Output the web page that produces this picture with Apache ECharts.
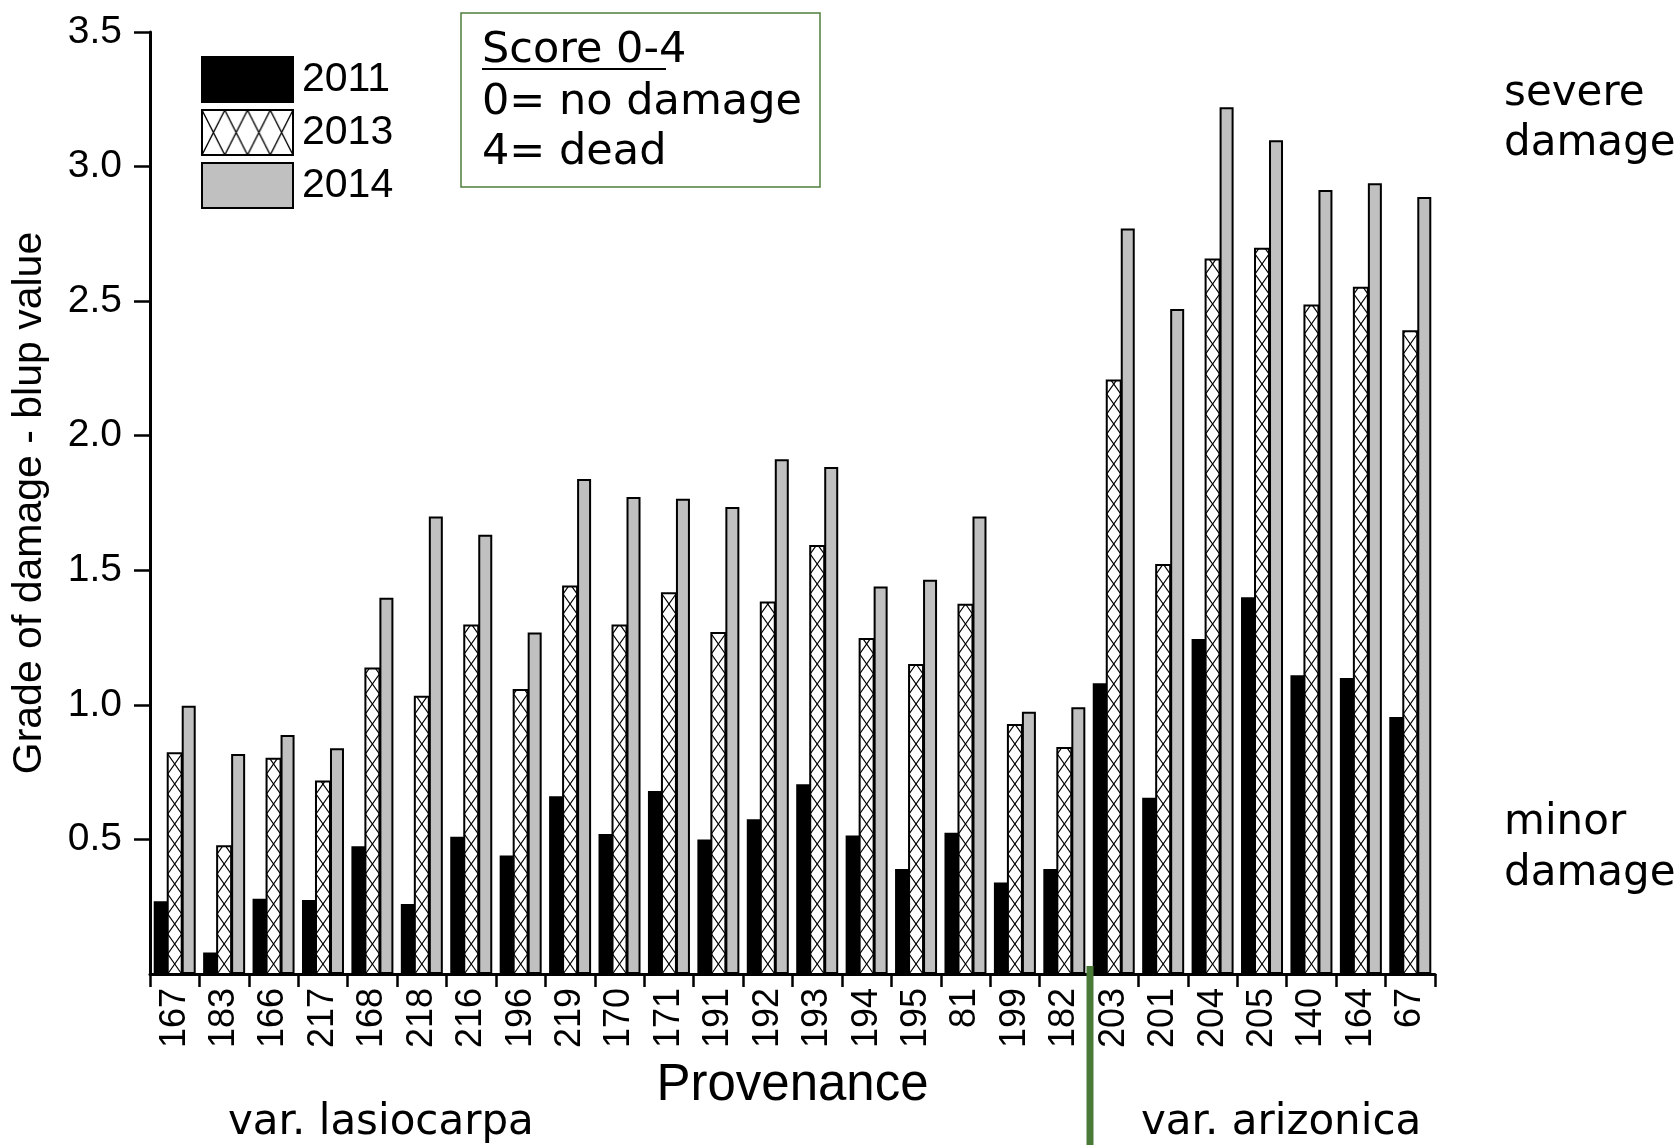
<!DOCTYPE html>
<html>
<head>
<meta charset="utf-8">
<script src="https://cdn.jsdelivr.net/npm/echarts@6/dist/echarts.min.js"></script>
<style>
  html, body { margin: 0; padding: 0; background: #fff; }
  #chart { width: 1679px; height: 1145px; }
</style>
</head>
<body>
<div id="chart"></div>
<script>
// Provenances along the x axis
const provenances = ['167','183','166','217','168','218','216','196','219','170','171','191','192','193','194','195','81','199','182','203','201','204','205','140','164','67'];

// Grade of damage (blup value) per year
const damage2011 = [0.27, 0.08, 0.28, 0.275, 0.475, 0.26, 0.51, 0.44, 0.66, 0.52, 0.68, 0.50, 0.575, 0.705, 0.515, 0.39, 0.525, 0.34, 0.39, 1.08, 0.655, 1.245, 1.40, 1.11, 1.10, 0.955];
const damage2013 = [0.82, 0.475, 0.80, 0.715, 1.135, 1.03, 1.295, 1.055, 1.44, 1.295, 1.415, 1.267, 1.38, 1.59, 1.245, 1.148, 1.372, 0.925, 0.84, 2.205, 1.52, 2.655, 2.695, 2.484, 2.55, 2.388];
const damage2014 = [0.997, 0.817, 0.888, 0.839, 1.398, 1.70, 1.632, 1.269, 1.839, 1.772, 1.766, 1.735, 1.913, 1.884, 1.44, 1.465, 1.70, 0.974, 0.991, 2.77, 2.471, 3.22, 3.098, 2.913, 2.938, 2.887];

// Y-axis tick labels
const yTicks = [0.5, 1.0, 1.5, 2.0, 2.5, 3.0, 3.5];

const seriesNames = ['2011', '2013', '2014'];

const BAR_W = 14;
const HATCH_STEP = 20;
const AXIS_FONT = '"Liberation Sans", Arial, sans-serif';
const NOTE_FONT = '"DejaVu Sans", Verdana, sans-serif';
const NOTE_SIZE = 42;

// cross-hatch tile for the legend swatch
function makeHatchTile(w, h) {
  const c = document.createElement('canvas');
  c.width = w; c.height = h;
  const ctx = c.getContext('2d');
  ctx.fillStyle = '#fff';
  ctx.fillRect(0, 0, w, h);
  ctx.strokeStyle = '#000';
  ctx.lineWidth = 1.3;
  ctx.beginPath();
  ctx.moveTo(0, 0); ctx.lineTo(w, h);
  ctx.moveTo(w, 0); ctx.lineTo(0, h);
  ctx.stroke();
  return c;
}
const legendHatch = { image: makeHatchTile(23, 45), repeat: 'repeat', scaleX: 22.75 / 23 };

// zigzag running from the bar base up to its top, clipped at the top edge
function zigzag(xl, xr, yBase, yTop, startLeft) {
  const pts = [];
  let y = yBase;
  let left = startLeft;
  pts.push([left ? xl : xr, y]);
  while (y - HATCH_STEP > yTop) {
    y -= HATCH_STEP;
    left = !left;
    pts.push([left ? xl : xr, y]);
  }
  const frac = (y - yTop) / HATCH_STEP;
  const xFrom = left ? xl : xr;
  const xTo = left ? xr : xl;
  pts.push([xFrom + (xTo - xFrom) * frac, yTop]);
  return pts;
}

function renderHatched(params, api) {
  const idx = api.value(0);
  const v = api.value(1);
  const top = api.coord([idx, v]);
  const base = api.coord([idx, 0]);
  const xl = top[0] - BAR_W / 2;
  const xr = top[0] + BAR_W / 2;
  const yTop = top[1];
  const yBase = base[1];
  return {
    type: 'group',
    children: [
      { type: 'rect', shape: { x: xl, y: yTop, width: BAR_W, height: yBase - yTop },
        style: { fill: '#fff', stroke: null } },
      { type: 'polyline', shape: { points: zigzag(xl, xr, yBase, yTop, true) },
        style: { stroke: '#000', lineWidth: 1.2, fill: null } },
      { type: 'polyline', shape: { points: zigzag(xl, xr, yBase, yTop, false) },
        style: { stroke: '#000', lineWidth: 1.2, fill: null } },
      { type: 'rect', shape: { x: xl, y: yTop, width: BAR_W, height: yBase - yTop },
        style: { fill: null, stroke: '#000', lineWidth: 2 } }
    ]
  };
}

function note(text, x, y, size) {
  return { type: 'text', x: x, y: y,
    style: { text: text, fontFamily: NOTE_FONT, fontSize: size || NOTE_SIZE, fill: '#000', verticalAlign: 'middle' } };
}

const chart = echarts.init(document.getElementById('chart'), null, { renderer: 'canvas' });

const option = {
  animation: false,
  backgroundColor: '#fff',
  grid: { left: 150, right: 244, top: 32, bottom: 171, containLabel: false, outerBoundsMode: 'none' },
  legend: {
    orient: 'vertical',
    left: 196,
    top: 51,
    itemWidth: 91,
    itemHeight: 45,
    itemGap: 6,
    icon: 'rect',
    data: seriesNames,
    selectedMode: false,
    itemStyle: { borderColor: '#000', borderWidth: 2 },
    textStyle: { fontFamily: AXIS_FONT, fontSize: 41, color: '#000', padding: [0, 0, 0, 4] }
  },
  xAxis: {
    type: 'category',
    data: provenances,
    boundaryGap: true,
    name: 'Provenance',
    nameLocation: 'middle',
    nameGap: 86,
    nameTextStyle: { fontFamily: AXIS_FONT, fontSize: 51, color: '#000' },
    axisLine: { show: true, onZero: false, lineStyle: { color: '#000', width: 3 } },
    axisTick: { show: true, length: 13, lineStyle: { color: '#000', width: 2.5 } },
    axisLabel: { rotate: 90, margin: 14, fontFamily: AXIS_FONT, fontSize: 36, color: '#000', interval: 0 },
    splitLine: { show: false }
  },
  yAxis: {
    type: 'value',
    min: 0,
    max: 3.5,
    interval: 0.5,
    name: 'Grade of damage - blup value',
    nameLocation: 'middle',
    nameGap: 100,
    nameTextStyle: { fontFamily: AXIS_FONT, fontSize: 41, color: '#000' },
    axisLine: { show: true, lineStyle: { color: '#000', width: 3 } },
    axisTick: { show: true, length: 16, customValues: yTicks, lineStyle: { color: '#000', width: 2.5 } },
    axisLabel: { customValues: yTicks, margin: 28, fontFamily: AXIS_FONT, fontSize: 39, color: '#000',
      formatter: v => v.toFixed(1) },
    splitLine: { show: false }
  },
  series: [
    {
      name: seriesNames[0],
      type: 'bar',
      data: damage2011,
      barWidth: BAR_W,
      barGap: '100%',
      itemStyle: { color: '#000', borderColor: '#000', borderWidth: 2 }
    },
    {
      name: seriesNames[1],
      type: 'custom',
      data: damage2013.map((v, i) => [i, v]),
      encode: { x: 0, y: 1 },
      renderItem: renderHatched,
      itemStyle: { color: legendHatch, borderColor: '#000', borderWidth: 2 },
      z: 3
    },
    {
      name: seriesNames[2],
      type: 'bar',
      data: damage2014,
      barWidth: BAR_W,
      barGap: '100%',
      itemStyle: { color: '#c0c0c0', borderColor: '#000', borderWidth: 2 }
    }
  ],
  graphic: [
    // score legend box
    { type: 'rect', shape: { x: 461, y: 13, width: 359, height: 174 },
      style: { fill: null, stroke: '#4f7d3c', lineWidth: 1.5 } },
    note('Score 0-4', 482, 51, 43),
    { type: 'line', shape: { x1: 482, y1: 69, x2: 666, y2: 69 }, style: { stroke: '#000', lineWidth: 2 } },
    note('0= no damage', 482, 103, 43),
    note('4= dead', 482, 153, 43),
    // scale annotations on the right
    note('severe', 1504, 94),
    note('damage', 1504, 144),
    note('minor', 1504, 823),
    note('damage', 1504, 874),
    // variety split
    { type: 'line', shape: { x1: 1090, y1: 966, x2: 1090, y2: 1145 }, style: { stroke: '#4a7a38', lineWidth: 7 }, z: 10 },
    note('var. lasiocarpa', 228, 1123),
    note('var. arizonica', 1141, 1123)
  ]
};

chart.setOption(option);
</script>
</body>
</html>
